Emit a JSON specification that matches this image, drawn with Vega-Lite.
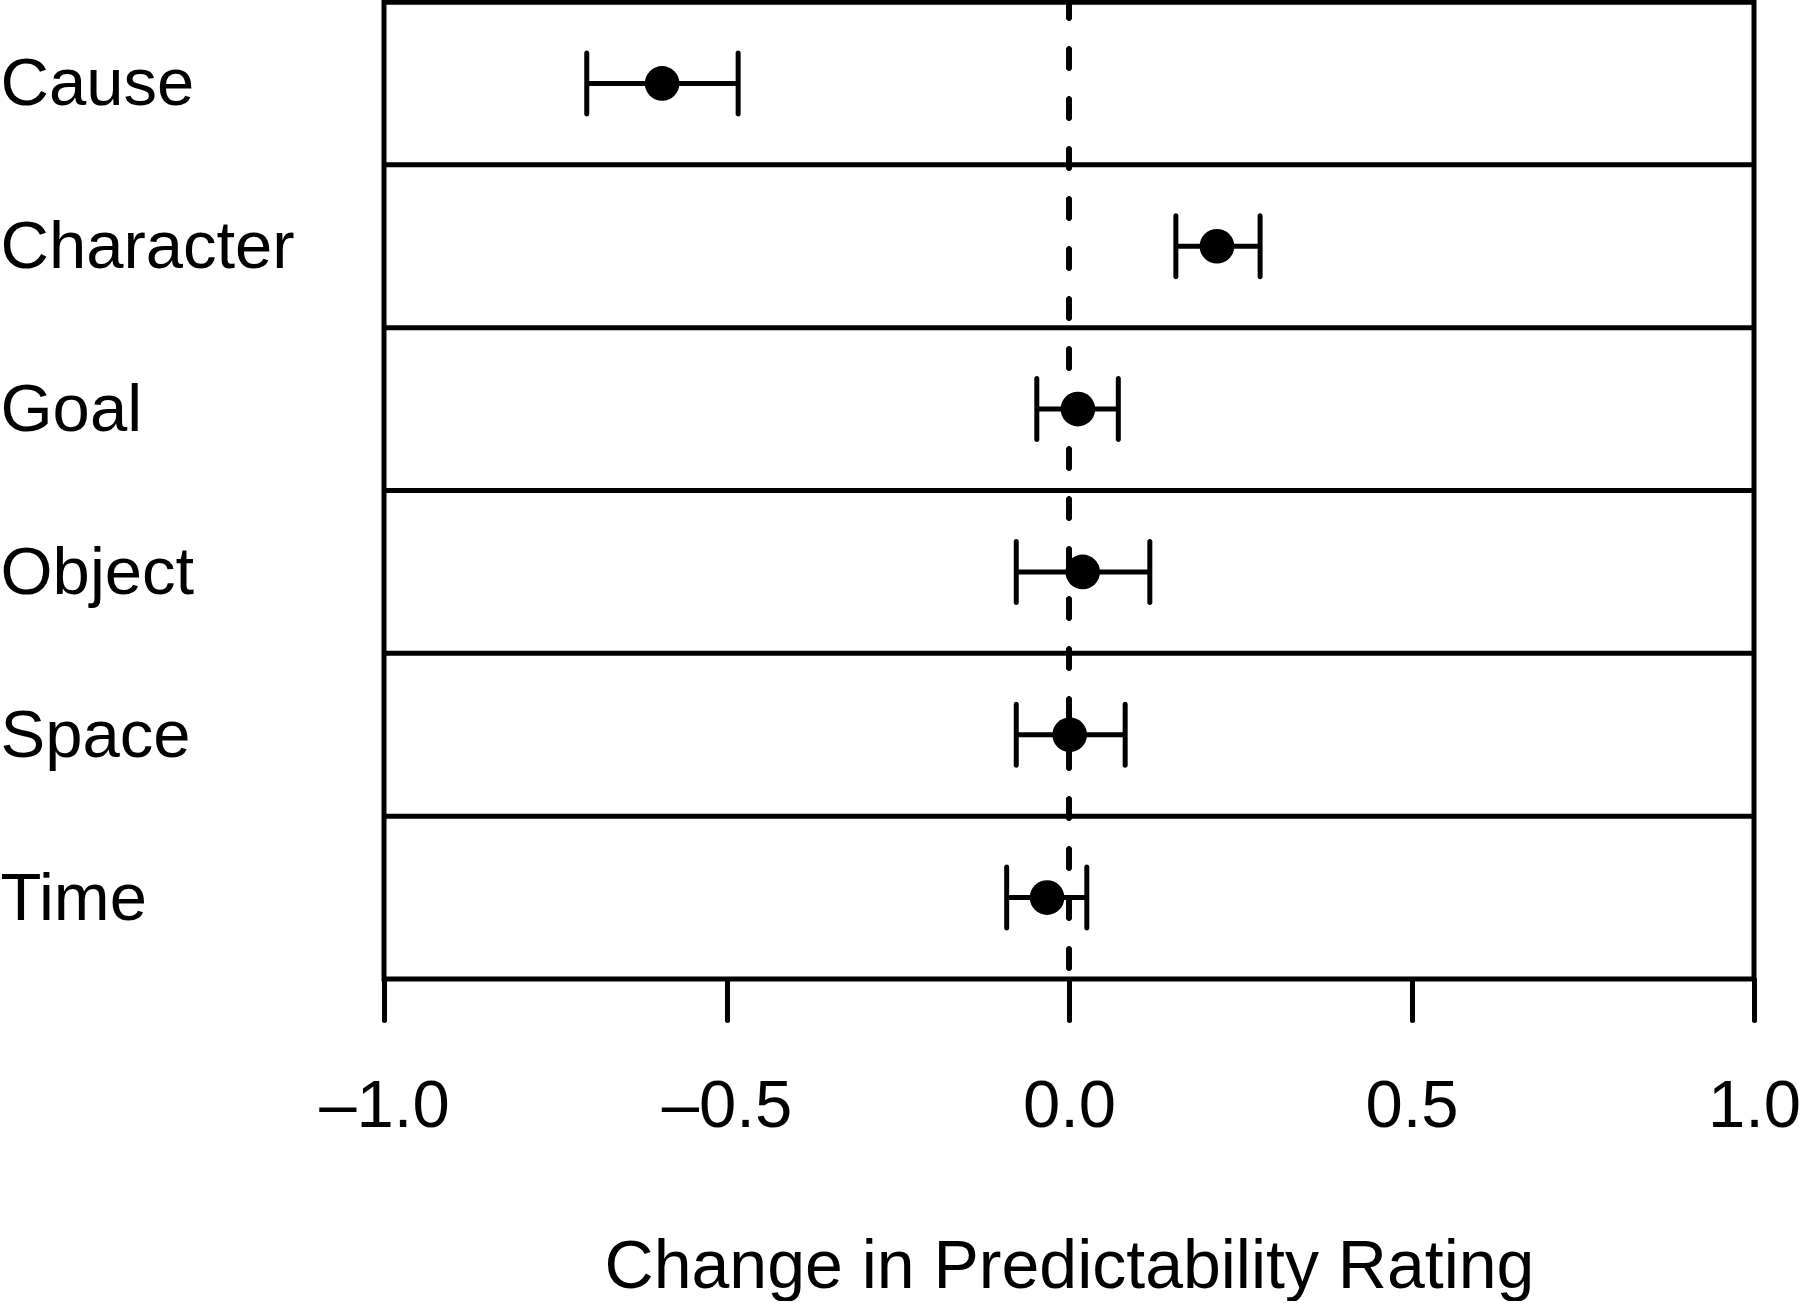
{
  "$schema": "https://vega.github.io/schema/vega-lite/v6.json",
  "width": 1370,
  "height": 977,
  "autosize": {"type": "none"},
  "padding": {"left": 384, "top": 2, "right": 46, "bottom": 322},
  "background": "white",
  "config": {
    "font": "Liberation Sans",
    "view": {"stroke": "black", "strokeWidth": 5}
  },
  "data": {
    "values": [
      {"cat": "Cause", "mean": -0.594, "lo": -0.704, "hi": -0.483},
      {"cat": "Character", "mean": 0.216, "lo": 0.156, "hi": 0.279},
      {"cat": "Goal", "mean": 0.013, "lo": -0.047, "hi": 0.072},
      {"cat": "Object", "mean": 0.02, "lo": -0.077, "hi": 0.118},
      {"cat": "Space", "mean": 0.001, "lo": -0.077, "hi": 0.082},
      {"cat": "Time", "mean": -0.032, "lo": -0.091, "hi": 0.026}
    ]
  },
  "encoding": {
    "y": {
      "field": "cat",
      "type": "nominal",
      "sort": null,
      "scale": {"paddingInner": 0, "paddingOuter": 0},
      "axis": {
        "title": null,
        "ticks": false,
        "domain": false,
        "grid": false,
        "labelAlign": "left",
        "labelPadding": 384,
        "labelOffset": 2,
        "labelLimit": 500,
        "labelFontSize": 67,
        "labelColor": "black"
      }
    }
  },
  "layer": [
    {
      "mark": {"type": "rule", "stroke": "black", "strokeWidth": 5},
      "encoding": {
        "y": {"field": "cat", "type": "nominal", "sort": null, "bandPosition": 0}
      }
    },
    {
      "mark": {"type": "rule", "stroke": "black", "strokeWidth": 5, "strokeDash": [19, 31], "strokeDashOffset": 3, "strokeCap": "round"},
      "encoding": {
        "x": {"datum": 0, "type": "quantitative"},
        "y": null
      }
    },
    {
      "mark": {"type": "rule", "stroke": "black", "strokeWidth": 5},
      "encoding": {
        "x": {
          "field": "lo",
          "type": "quantitative",
          "scale": {"domain": [-1, 1], "nice": false, "zero": false},
          "axis": {
            "values": [-1, -0.5, 0, 0.5, 1],
            "labelExpr": "(datum.value < 0 ? '–' : '') + format(abs(datum.value), '.1f')",
            "domain": false,
            "grid": false,
            "tickSize": 41,
            "tickWidth": 5,
            "tickColor": "black",
            "tickCap": "round",
            "labelPadding": 53,
            "labelFontSize": 67,
            "labelColor": "black",
            "labelFlush": false,
            "labelOverlap": false,
            "title": "Change in Predictability Rating",
            "titleFontSize": 68,
            "titleFontWeight": "normal",
            "titleColor": "black",
            "titleBaseline": "top",
            "titleY": 254
          }
        },
        "x2": {"field": "hi"}
      }
    },
    {
      "mark": {"type": "tick", "color": "black", "opacity": 1, "size": 66, "thickness": 5, "cornerRadius": 2.5},
      "encoding": {"x": {"field": "lo", "type": "quantitative"}}
    },
    {
      "mark": {"type": "tick", "color": "black", "opacity": 1, "size": 66, "thickness": 5, "cornerRadius": 2.5},
      "encoding": {"x": {"field": "hi", "type": "quantitative"}}
    },
    {
      "mark": {"type": "circle", "color": "black", "opacity": 1, "size": 1200},
      "encoding": {"x": {"field": "mean", "type": "quantitative"}}
    }
  ]
}
